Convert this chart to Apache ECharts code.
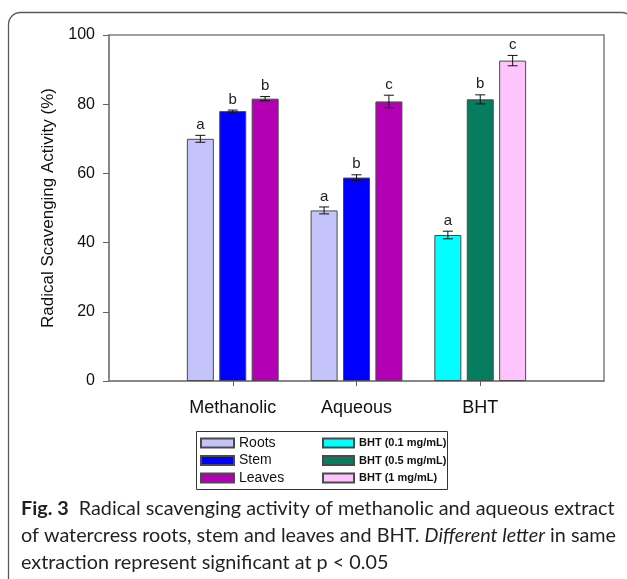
<!DOCTYPE html>
<html>
<head>
<meta charset="utf-8">
<script src="https://cdn.jsdelivr.net/npm/echarts@6/dist/echarts.min.js"></script>
<style>
html,body{margin:0;padding:0;background:#fff;}
#c{width:627px;height:579px;}
</style>
</head>
<body>
<div id="c"></div>
<script>
const categories = ['Methanolic', 'Aqueous', 'BHT'];
const yTicks = [0, 20, 40, 60, 80, 100];
const rootsVals = [70.0, 49.3];
const stemVals = [78.0, 58.8];
const leavesVals = [81.6, 80.8];
const bhtVals = [42.2, 81.4, 92.6];
const rootsErr = [1.0, 1.0];
const stemErr = [0.3, 0.8];
const leavesErr = [0.6, 1.8];
const bhtErr = [1.1, 1.3, 1.5];
const methanolicLetters = ['a', 'b', 'b'];
const aqueousLetters = ['a', 'b', 'c'];
const bhtLetters = ['a', 'b', 'c'];
const bhtNames = ['BHT (0.1 mg/mL)', 'BHT (0.5 mg/mL)', 'BHT (1 mg/mL)'];

const axisCats = [''].concat(categories).concat(['']);
const colors = {
  roots: '#c4c4fb', stem: '#0000ff', leaves: '#b400b4',
  bht1: '#00ffff', bht2: '#077d5f', bht3: '#ffc4fd'
};

function slotData(extractVals, bhtVal) {
  // index 0 and 4 are empty ends; 1 Methanolic, 2 Aqueous, 3 BHT
  return ['-', extractVals ? extractVals[0] : '-', extractVals ? extractVals[1] : '-', bhtVal === undefined ? '-' : bhtVal, '-'];
}

const barCommon = {
  type: 'bar', barWidth: 27, barGap: '20%',
  itemStyle: { borderColor: '#4a4a4a', borderWidth: 1 },
  emphasis: { disabled: true }
};

const series = [
  Object.assign({}, barCommon, { name: 'Roots', stack: 's1', data: slotData(rootsVals), itemStyle: Object.assign({}, barCommon.itemStyle, { color: colors.roots }) }),
  Object.assign({}, barCommon, { name: 'Stem', stack: 's2', data: slotData(stemVals), itemStyle: Object.assign({}, barCommon.itemStyle, { color: colors.stem }) }),
  Object.assign({}, barCommon, { name: 'Leaves', stack: 's3', data: slotData(leavesVals), itemStyle: Object.assign({}, barCommon.itemStyle, { color: colors.leaves }) }),
  Object.assign({}, barCommon, { name: bhtNames[0], stack: 's1', data: slotData(null, bhtVals[0]), itemStyle: Object.assign({}, barCommon.itemStyle, { color: colors.bht1 }) }),
  Object.assign({}, barCommon, { name: bhtNames[1], stack: 's2', data: slotData(null, bhtVals[1]), itemStyle: Object.assign({}, barCommon.itemStyle, { color: colors.bht2 }) }),
  Object.assign({}, barCommon, { name: bhtNames[2], stack: 's3', data: slotData(null, bhtVals[2]), itemStyle: Object.assign({}, barCommon.itemStyle, { color: colors.bht3 }) })
];

// error bars + letters: [categoryIndex, value, err, slot]
const errData = [];
const errLetters = [];
[rootsVals, stemVals, leavesVals].forEach((vals, slot) => {
  const errs = [rootsErr, stemErr, leavesErr][slot];
  vals.forEach((v, i) => {
    errData.push([i + 1, v, errs[i], slot]);
    errLetters.push([methanolicLetters, aqueousLetters][i][slot]);
  });
});
bhtVals.forEach((v, slot) => {
  errData.push([3, v, bhtErr[slot], slot]);
  errLetters.push(bhtLetters[slot]);
});

const slotStep = 27 * 1.2;
series.push({
  type: 'custom',
  z: 10,
  silent: true,
  data: errData,
  encode: { x: 0, y: 1 },
  renderItem: function (params, api) {
    const c = api.value(0), v = api.value(1), e = api.value(2), s = api.value(3);
    const x = api.coord([c, v])[0] + (s - 1) * slotStep;
    const yT = api.coord([c, v + e])[1];
    const yB = api.coord([c, v - e])[1];
    const cap = 5;
    const ls = { stroke: '#111', lineWidth: 1 };
    return {
      type: 'group',
      children: [
        { type: 'line', shape: { x1: x, y1: yT, x2: x, y2: yB }, style: ls },
        { type: 'line', shape: { x1: x - cap, y1: yT, x2: x + cap, y2: yT }, style: ls },
        { type: 'line', shape: { x1: x - cap, y1: yB, x2: x + cap, y2: yB }, style: ls },
        { type: 'text', style: { x: x, y: yT - 3, text: errLetters[params.dataIndex], textAlign: 'center', textVerticalAlign: 'bottom', font: '15px "Liberation Sans", Arial, sans-serif', fill: '#222' } }
      ]
    };
  }
});

const chart = echarts.init(document.getElementById('c'), null, { renderer: 'canvas' });
chart.setOption({
  animation: false,
  backgroundColor: '#ffffff',
  textStyle: { fontFamily: '"Liberation Sans", Arial, sans-serif' },
  grid: { left: 109, top: 35, right: 23, bottom: 198, show: true, borderColor: '#808080', borderWidth: 1.5, backgroundColor: 'transparent' },
  xAxis: {
    type: 'category', data: axisCats, boundaryGap: false,
    axisLine: { lineStyle: { color: '#808080', width: 1.5 } },
    axisTick: { length: 5, lineStyle: { color: '#606060' }, interval: function (i) { return i > 0 && i < axisCats.length - 1; } },
    axisLabel: { color: '#111', fontSize: 18, margin: 18, interval: 0 },
    splitLine: { show: false }
  },
  yAxis: {
    type: 'value', min: yTicks[0], max: yTicks[yTicks.length - 1], interval: 20,
    name: 'Radical Scavenging Activity (%)', nameLocation: 'middle', nameGap: 52,
    nameTextStyle: { fontSize: 17, color: '#111' },
    axisLine: { show: true, lineStyle: { color: '#808080', width: 1.5 } },
    axisTick: { show: true, length: 6, lineStyle: { color: '#606060' } },
    axisLabel: { color: '#111', fontSize: 16, margin: 14 },
    splitLine: { show: false }
  },
  legend: [
    {
      data: ['Roots', 'Stem', 'Leaves'], orient: 'vertical', left: 200, top: 436,
      itemWidth: 33, itemHeight: 9, itemGap: 3.5, icon: 'rect', padding: 0,
      textStyle: { fontSize: 14, color: '#111', lineHeight: 14 }, selectedMode: false
    },
    {
      data: bhtNames, orient: 'vertical', left: 322, top: 436,
      itemWidth: 31, itemHeight: 9, itemGap: 3.5, icon: 'rect', padding: 0,
      textStyle: { fontSize: 11, fontWeight: 'bold', color: '#111', lineHeight: 14 }, selectedMode: false
    }
  ],
  graphic: [
    { type: 'rect', shape: { x: 8.5, y: 12.5, width: 625, height: 620, r: [12, 12, 0, 0] }, style: { fill: 'none', stroke: '#5a5a5a', lineWidth: 1.3 }, silent: true, z: -1 },
    { type: 'rect', shape: { x: 196.5, y: 431.5, width: 251, height: 58 }, style: { fill: 'none', stroke: '#333', lineWidth: 1 }, silent: true },
    {
      type: 'text', left: 21, top: 495, silent: true,
      style: {
        text: '{b|Fig. 3}  Radical scavenging activity of methanolic and aqueous extract\nof watercress roots, stem and leaves and BHT. {i|Different letter} in same\nextraction represent significant at p < 0.05',
        font: '19.8px Lato, sans-serif', fill: '#231f20', lineHeight: 27,
        rich: {
          b: { fontWeight: 'bold', fontSize: 19.8, fontFamily: 'Lato, sans-serif', fill: '#231f20', lineHeight: 27 },
          i: { fontStyle: 'italic', fontSize: 19.8, fontFamily: 'Lato, sans-serif', fill: '#231f20', lineHeight: 27 }
        }
      }
    }
  ],
  series: series
});
</script>
</body>
</html>
